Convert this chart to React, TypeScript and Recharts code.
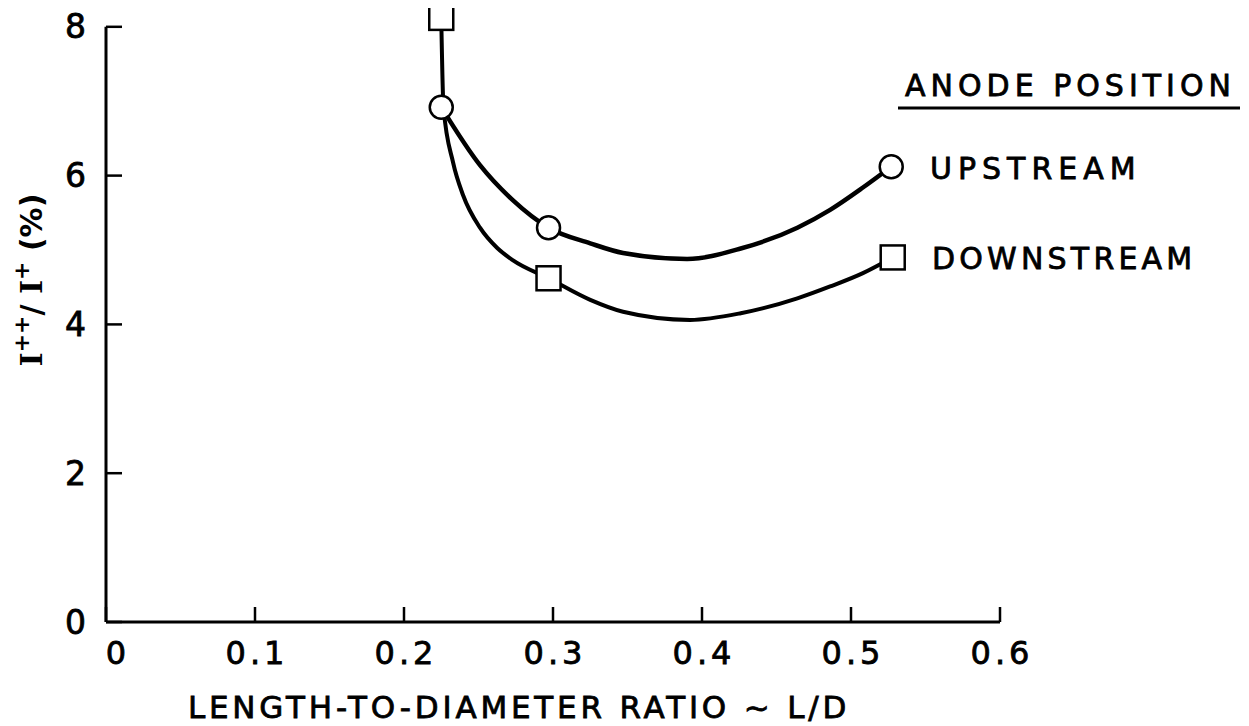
import { ComposedChart, Line, Scatter, XAxis, YAxis, ReferenceLine } from 'recharts'

// measured points (markers)
const upstreamLD = [0.225, 0.297, 0.527]
const upstreamRatio = [6.92, 5.3, 6.12]
const downstreamLD = [0.225, 0.297, 0.528]
const downstreamRatio = [8.12, 4.62, 4.9]

// faired curves as drawn through the points
const upstreamCurveLD = [0.225, 0.251, 0.273, 0.297, 0.325, 0.347, 0.39, 0.426, 0.464, 0.486, 0.508, 0.527]
const upstreamCurveRatio = [6.92, 6.14, 5.67, 5.3, 5.09, 4.96, 4.88, 5.02, 5.3, 5.54, 5.84, 6.12]
const downstreamCurveLD = [0.225, 0.2265, 0.2329, 0.2396, 0.251, 0.2624, 0.2732, 0.297, 0.325, 0.347, 0.392, 0.426, 0.464, 0.486, 0.508, 0.528]
const downstreamCurveRatio = [8.12, 6.92, 6.18, 5.74, 5.3, 5.03, 4.86, 4.62, 4.33, 4.17, 4.06, 4.15, 4.35, 4.51, 4.69, 4.9]

const xTicks = [0, 0.1, 0.2, 0.3, 0.4, 0.5, 0.6]
const yTicks = [0, 2, 4, 6, 8]

const seriesNames = ['UPSTREAM', 'DOWNSTREAM']
const legendTitle = 'ANODE POSITION'
const xTitle = 'LENGTH-TO-DIAMETER RATIO ~ L/D'

const zip = (xs: number[], ys: number[]) => xs.map((x, i) => ({ x, y: ys[i] }))

const FONT = '"DejaVu Sans", sans-serif'
const ink = { fill: '#000', stroke: '#000', strokeWidth: 0.8 }

const XTick = (props: any) => {
  const v = props.payload.value
  return (
    <text x={props.x + (v === 0 ? 12 : 2)} y={props.y + 31} textAnchor="middle" dominantBaseline="central"
      fontFamily={FONT} fontSize={32} letterSpacing={4} {...ink}>
      {String(v)}
    </text>
  )
}

const YTick = (props: any) => (
  <text x={props.x - 20} y={props.y} textAnchor="end" dominantBaseline="central"
    fontFamily={FONT} fontSize={33} {...ink}>
    {props.payload.value}
  </text>
)

const Circle = (p: any) => <circle cx={p.cx} cy={p.cy} r={11.5} fill="#fff" stroke="#000" strokeWidth={2.5} />
const Square = (p: any) => <rect x={p.cx - 12} y={p.cy - 12} width={24} height={24} fill="#fff" stroke="#000" strokeWidth={2.5} />

export default function App() {
  return (
    <div style={{ position: 'relative', width: 1249, height: 726, marginTop: -8, marginLeft: -8 }}>
      <ComposedChart width={1249} height={726} margin={{ top: 3, right: 249, bottom: 44, left: 0 }}>
        <XAxis type="number" dataKey="x" domain={[0, 0.6]} ticks={xTicks}
          height={60} axisLine={{ stroke: '#000', strokeWidth: 3 }}
          tickLine={{ stroke: '#000', strokeWidth: 2.5 }} tickSize={-15} tickMargin={15}
          tick={<XTick />} interval={0}
          label={(p: any) => (
            <text x={p.viewBox.x + 413} y={p.viewBox.y + 96} textAnchor="middle" fontFamily={FONT}
              fontSize={31} letterSpacing={3.8} {...ink}>{xTitle}</text>
          )} />
        <YAxis type="number" dataKey="y" domain={[0, (max: number) => max + 0.2]} ticks={yTicks}
          width={106} axisLine={false}
          tickLine={{ stroke: '#000', strokeWidth: 2.5 }} tickSize={-16} tickMargin={16}
          tick={<YTick />} interval={0}
          label={() => (
            <text x={31} y={280} transform="rotate(-90 31 280)" textAnchor="middle" dominantBaseline="central"
              fontFamily={FONT} fontSize={30} fontWeight="bold" fill="#000">
              <tspan fontFamily='"DejaVu Serif", serif'>I</tspan>
              <tspan fontSize={22} dy={-10}>++</tspan>
              <tspan dy={10}>/ </tspan>
              <tspan fontFamily='"DejaVu Serif", serif'>I</tspan>
              <tspan fontSize={22} dy={-10}>+</tspan>
              <tspan dy={10}> (%)</tspan>
            </text>
          )} />
        <ReferenceLine segment={[{ x: 0, y: 0 }, { x: 0, y: 8 }]} stroke="#000" strokeWidth={3} />
        <Line data={zip(upstreamCurveLD, upstreamCurveRatio)} dataKey="y" type="monotone" stroke="#000"
          strokeWidth={4.5} dot={false} isAnimationActive={false} />
        <Line data={zip(downstreamCurveLD, downstreamCurveRatio)} dataKey="y" type="monotone" stroke="#000"
          strokeWidth={4} dot={false} isAnimationActive={false} />
        <Scatter name={seriesNames[0]} data={zip(upstreamLD, upstreamRatio)} dataKey="y" shape={Circle}
          isAnimationActive={false} />
        <Scatter name={seriesNames[1]} data={zip(downstreamLD, downstreamRatio)} dataKey="y" shape={Square}
          isAnimationActive={false} />
      </ComposedChart>
      <svg width={1249} height={726} style={{ position: 'absolute', left: 0, top: 0, pointerEvents: 'none' }}>
        <text x={905} y={96} fontFamily={FONT} fontSize={30} letterSpacing={5} {...ink}>{legendTitle}</text>
        <line x1={898} x2={1240} y1={108} y2={108} stroke="#000" strokeWidth={3} />
        <text x={930} y={179} fontFamily={FONT} fontSize={30} letterSpacing={6} {...ink}>{seriesNames[0]}</text>
        <text x={932} y={269} fontFamily={FONT} fontSize={30} letterSpacing={4.2} {...ink}>{seriesNames[1]}</text>
      </svg>
    </div>
  )
}
